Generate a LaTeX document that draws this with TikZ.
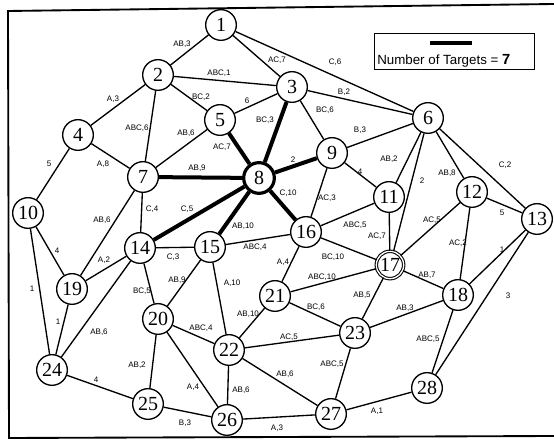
\documentclass[tikz,border=0pt]{standalone}
\usepackage{fontspec}
\setmainfont{Liberation Serif}
\setsansfont{Liberation Sans}
\begin{document}
\begin{tikzpicture}[x=0.75pt,y=-0.75pt,
  vertex/.style={circle,draw,line width=1pt,minimum size=23pt,inner sep=0pt,fill=white,
    font=\fontsize{15}{15}\selectfont},
  hub/.style={vertex,line width=2.4pt},
  goal/.style={vertex,double,double distance=1pt,line width=0.8pt,minimum size=20.5pt},
  link/.style={line width=1pt},
  route/.style={line width=3pt},
  lbl/.style={font=\sffamily\fontsize{6}{6}\selectfont,inner sep=0.5pt},
  legendtext/.style={font=\sffamily\fontsize{10}{10}\selectfont,inner sep=0pt,anchor=base west}
]
\useasboundingbox (0,0) rectangle (554,441);

% outer frame
\draw[line width=1.4pt] (554,4) -- (8,11) -- (9,438) -- (554,436);

% legend
\node[draw,line width=1pt,minimum width=120pt,minimum height=27pt,inner sep=0pt] (legend) at (454.5,51.5) {};
\coordinate (legA) at (430,43);
\coordinate (legB) at (472,43);
\draw[route] (legA) -- (legB);
\node[legendtext] (legtxt) at (377,65) {Number of Targets = \textbf{\fontsize{11}{11}\selectfont 7}};

% vertices
\node[vertex] (n1) at (221,25) {1};
\node[vertex] (n2) at (158,75) {2};
\node[vertex] (n3) at (292,87) {3};
\node[vertex] (n4) at (78,135) {4};
\node[vertex] (n5) at (220,120) {5};
\node[vertex] (n6) at (428,118) {6};
\node[vertex] (n7) at (143,177) {7};
\node[hub]    (n8) at (259,178) {8};
\node[vertex] (n9) at (332,153) {9};
\node[vertex] (n10) at (28,213) {10};
\node[vertex] (n11) at (389,197) {11};
\node[vertex] (n12) at (472,192) {12};
\node[vertex] (n13) at (537,219) {13};
\node[vertex] (n14) at (140,248) {14};
\node[vertex] (n15) at (210,247) {15};
\node[vertex] (n16) at (306,232) {16};
\node[goal]   (n17) at (390,265) {17};
\node[vertex] (n18) at (458,295) {18};
\node[vertex] (n19) at (72,289) {19};
\node[vertex] (n20) at (158,319) {20};
\node[vertex] (n21) at (275,296) {21};
\node[vertex] (n22) at (229,350) {22};
\node[vertex] (n23) at (355,333) {23};
\node[vertex] (n24) at (52,370) {24};
\node[vertex] (n25) at (148,404) {25};
\node[vertex] (n26) at (227,420) {26};
\node[vertex] (n27) at (331,414) {27};
\node[vertex] (n28) at (427,388) {28};

% ordinary links
\foreach \a/\b in {n1/n2,n1/n3,n1/n6,n2/n3,n2/n4,n2/n5,n2/n7,n3/n5,n3/n9,n3/n6,
  n4/n7,n4/n10,n5/n7,n6/n9,n6/n11,n6/n17,n6/n12,n6/n13,n7/n14,n7/n19,
  n9/n11,n9/n16,n10/n19,n10/n24,n11/n16,n11/n17,n12/n13,n12/n17,n12/n18,
  n13/n18,n13/n28,n14/n15,n14/n19,n14/n20,n14/n24,n15/n16,n15/n20,n15/n22,
  n16/n17,n16/n21,n17/n21,n17/n18,n17/n23,n18/n23,n18/n28,n19/n24,
  n20/n22,n20/n25,n20/n26,n21/n22,n21/n23,n22/n23,n22/n26,n22/n27,
  n23/n27,n24/n25,n25/n26,n26/n27,n27/n28}
  \draw[link] (\a) -- (\b);

% the selected route through the hub
\foreach \b in {n3,n5,n7,n9,n14,n15,n16}
  \draw[route] (n8) -- (\b);

% link labels
\node[lbl] (t1-2) at (182,44) {AB,3};
\node[lbl] (t1-3) at (277,60) {AC,7};
\node[lbl] (t1-6) at (335,62) {C,6};
\node[lbl] (t2-3) at (219,73) {ABC,1};
\node[lbl] (t2-4) at (113,99) {A,3};
\node[lbl] (t2-5) at (201,97) {BC,2};
\node[lbl] (t2-7) at (137,128) {ABC,6};
\node[lbl] (t3-5) at (247,101) {6};
\node[lbl] (t3-6) at (344,92) {B,2};
\node[lbl] (t3-9) at (325,110) {BC,6};
\node[lbl] (t3-8) at (265,120) {BC,3};
\node[lbl] (t6-9) at (360,130) {B,3};
\node[lbl] (t5-8) at (222,147) {AC,7};
\node[lbl] (t5-7) at (186,133) {AB,6};
\node[lbl] (t7-8) at (197,168) {AB,9};
\node[lbl] (t4-10) at (49,164) {5};
\node[lbl] (t4-7) at (103,164) {A,8};
\node[lbl] (t7-14) at (152,209) {C,4};
\node[lbl] (t7-19) at (102,220) {AB,6};
\node[lbl] (t8-14) at (187,209) {C,5};
\node[lbl] (t10-19) at (57,251) {4};
\node[lbl] (t14-19) at (104,260) {A,2};
\node[lbl] (t14-15) at (173,257) {C,3};
\node[lbl] (t15-20) at (177,280) {AB,9};
\node[lbl] (t10-24) at (32,289) {1};
\node[lbl] (t8-9) at (293,160) {2};
\node[lbl] (t9-11) at (360,172) {4};
\node[lbl] (t8-16) at (288,193) {C,10};
\node[lbl] (t9-16) at (327,198) {AC,3};
\node[lbl] (t11-16) at (355,225) {ABC,5};
\node[lbl] (t8-15) at (243,226) {AB,10};
\node[lbl] (t15-16) at (255,247) {ABC,4};
\node[lbl] (t16-17) at (333,257) {BC,10};
\node[lbl] (t16-21) at (283,262) {A,4};
\node[lbl] (t17-21) at (322,277) {ABC,10};
\node[lbl] (t15-22) at (232,283) {A,10};
\node[lbl] (t11-17) at (377,236) {AC,7};
\node[lbl] (t6-11) at (389,159) {AB,2};
\node[lbl] (t6-17) at (422,181) {2};
\node[lbl] (t6-12) at (447,173) {AB,8};
\node[lbl] (t6-13) at (505,165) {C,2};
\node[lbl] (t12-17) at (432,220) {AC,5};
\node[lbl] (t12-13) at (502,213) {5};
\node[lbl] (t12-18) at (458,243) {AC,2};
\node[lbl] (t13-18) at (502,250) {1};
\node[lbl] (t17-18) at (427,275) {AB,7};
\node[lbl] (t17-23) at (362,295) {AB,5};
\node[lbl] (t18-23) at (405,308) {AB,3};
\node[lbl] (t13-28) at (508,296) {3};
\node[lbl] (t18-28) at (428,339) {ABC,5};
\node[lbl] (t27-28) at (377,411) {A,1};
\node[lbl] (t21-22) at (248,314) {AB,10};
\node[lbl] (t21-23) at (316,307) {BC,6};
\node[lbl] (t20-22) at (201,328) {ABC,4};
\node[lbl] (t22-23) at (289,337) {AC,5};
\node[lbl] (t23-27) at (332,364) {ABC,5};
\node[lbl] (t22-27) at (285,374) {AB,6};
\node[lbl] (t22-26) at (241,390) {AB,6};
\node[lbl] (t20-26) at (193,387) {A,4};
\node[lbl] (t26-27) at (277,428) {A,3};
\node[lbl] (t25-26) at (185,423) {B,3};
\node[lbl] (t19-24) at (58,322) {1};
\node[lbl] (t14-24) at (99,332) {AB,6};
\node[lbl] (t20-25) at (137,365) {AB,2};
\node[lbl] (t24-25) at (96,380) {4};
\node[lbl] (t14-20) at (142,291) {BC,5};
\end{tikzpicture}
\end{document}
